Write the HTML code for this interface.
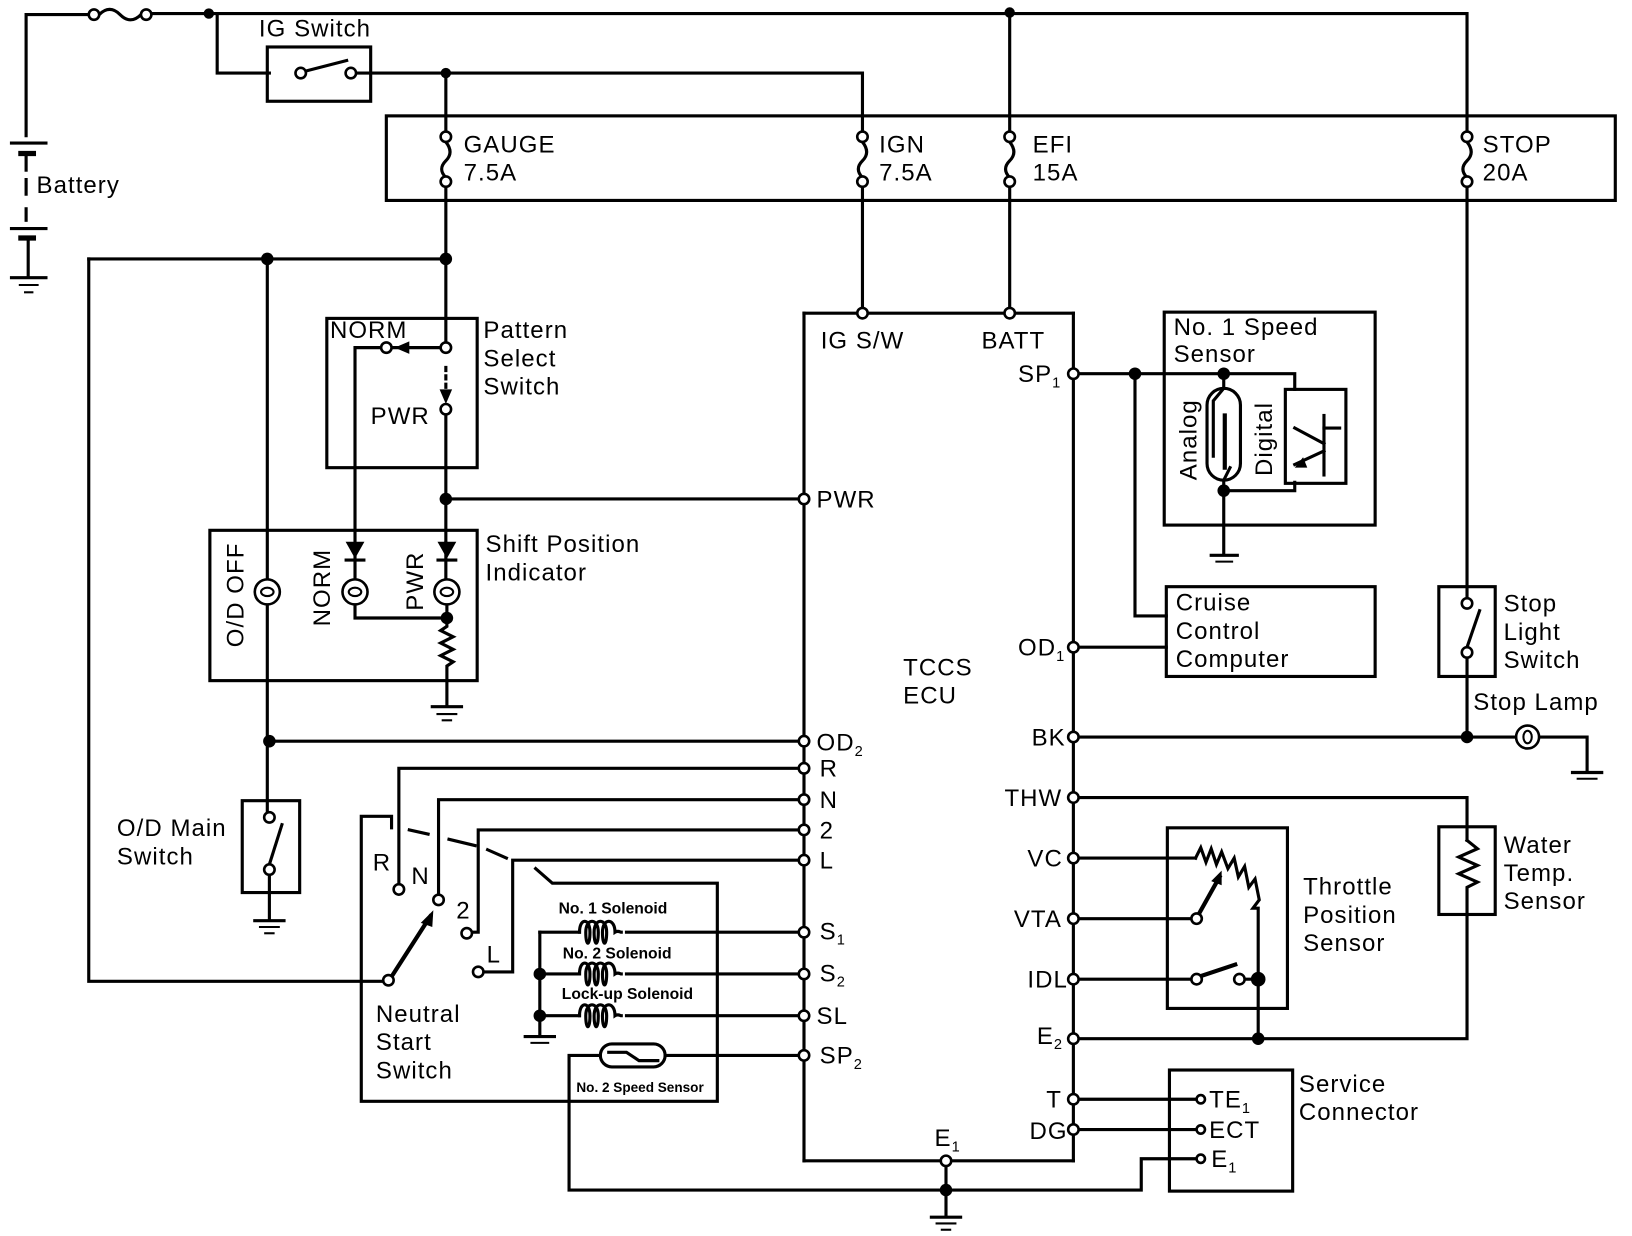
<!DOCTYPE html>
<html><head><meta charset="utf-8"><style>
html,body{margin:0;padding:0;background:#fff}
svg{display:block}
text{font-family:"Liberation Sans",Arial,sans-serif;font-size:23px;letter-spacing:1px;fill:#000}
.s{font-size:15px;font-weight:bold;letter-spacing:0}
</style></head><body>
<svg width="1632" height="1236" viewBox="0 0 1563 1184" preserveAspectRatio="none" xmlns="http://www.w3.org/2000/svg">
<g stroke="#000" stroke-width="3" fill="none" stroke-linecap="square">
<polyline points="25,130 25,14 90,14"/>
<path d="M95,14 q10,-10 20,0 q10,10 20,0"/>
<polyline points="140,13 1405,13 1405,130"/>
<polyline points="208,13 208,70 258,70"/>
<rect x="256" y="45" width="99" height="52"/>
<line x1="293" y1="68" x2="332" y2="58"/>
<polyline points="341,70 826,70 826,130"/>
<line x1="967" y1="13" x2="967" y2="130"/>
<line x1="11" y1="137" x2="44" y2="137"/>
<line x1="20" y1="147" x2="32" y2="147" stroke-width="5"/>
<line x1="25" y1="147" x2="25" y2="163"/>
<line x1="25" y1="172" x2="25" y2="186"/>
<line x1="25" y1="200" x2="25" y2="211"/>
<line x1="11" y1="219" x2="44" y2="219"/>
<line x1="20" y1="228" x2="32" y2="228" stroke-width="5"/>
<line x1="27" y1="228" x2="27" y2="264"/>
<line x1="11" y1="266" x2="44" y2="266"/>
<line x1="19" y1="273" x2="36" y2="273" stroke-width="2"/>
<line x1="24" y1="280" x2="31" y2="280" stroke-width="2"/>
<rect x="370" y="111" width="1177" height="81"/>
<line x1="427" y1="70" x2="427" y2="125"/>
<path d="M427,136 q8,10 0,18 q-8,8 0,16"/>
<path d="M826,136 q8,10 0,18 q-8,8 0,16"/>
<path d="M967,136 q8,10 0,18 q-8,8 0,16"/>
<path d="M1405,136 q8,10 0,18 q-8,8 0,16"/>
<line x1="427" y1="178" x2="427" y2="330"/>
<line x1="826" y1="178" x2="826" y2="298"/>
<line x1="967" y1="178" x2="967" y2="298"/>
<polyline points="1405,178 1405,575"/>
<polyline points="85,248 427,248"/>
<polyline points="85,248 85,940 370,940"/>
<line x1="256" y1="248" x2="256" y2="560"/>
<line x1="256" y1="575" x2="256" y2="778"/>
<rect x="313" y="305" width="144" height="143"/>
<polyline points="340,525 340,333 366,333"/>
<line x1="376" y1="333" x2="422" y2="333"/>
<line x1="427" y1="352" x2="427" y2="372" stroke-dasharray="3 5"/>
<line x1="427" y1="397" x2="427" y2="520"/>
<line x1="427" y1="478" x2="766" y2="478"/>
<rect x="201" y="508" width="256" height="144"/>
<line x1="340" y1="525" x2="340" y2="558"/>
<line x1="427" y1="520" x2="427" y2="558"/>
<polyline points="340,576 340,592 428,592"/>
<polyline points="428,576 428,600 422,604 434,610 422,616 434,622 422,628 434,634 428,638 428,675"/>
<line x1="414" y1="677" x2="442" y2="677"/>
<line x1="419" y1="684" x2="437" y2="684" stroke-width="2"/>
<line x1="424" y1="690" x2="432" y2="690" stroke-width="2"/>
<line x1="256" y1="710" x2="766" y2="710"/>
<rect x="232" y="767" width="55" height="88"/>
<line x1="258" y1="828" x2="270" y2="790"/>
<line x1="258" y1="838" x2="258" y2="880"/>
<line x1="244" y1="882" x2="272" y2="882"/>
<line x1="249" y1="888" x2="267" y2="888" stroke-width="2"/>
<line x1="254" y1="894" x2="262" y2="894" stroke-width="2"/>
<polyline points="770,300 1028,300"/>
<line x1="770" y1="300" x2="770" y2="1112"/>
<line x1="1028" y1="300" x2="1028" y2="1112"/>
<line x1="770" y1="1112" x2="1028" y2="1112"/>
<polyline points="766,736 382,736 382,848"/>
<polyline points="766,766 420,766 420,858"/>
<polyline points="766,795 458,795 458,893 452,893"/>
<polyline points="766,824 491,824 491,931 463,931"/>
<polyline points="375,793 375,782 346,782 346,1055 687,1055 687,846 529,846 513,832"/>
<line x1="392" y1="795" x2="410" y2="799"/>
<line x1="430" y1="804" x2="455" y2="810"/>
<line x1="467" y1="814" x2="485" y2="822"/>
<line x1="376" y1="934" x2="412" y2="878" stroke-width="4"/>
<line x1="517" y1="893" x2="517" y2="992"/>
<line x1="517" y1="893" x2="555" y2="893"/>
<line x1="517" y1="933" x2="555" y2="933"/>
<line x1="517" y1="973" x2="555" y2="973"/>
<line x1="503" y1="993" x2="531" y2="993"/>
<line x1="509" y1="999" x2="525" y2="999" stroke-width="2"/>
<line x1="600" y1="893" x2="766" y2="893"/>
<line x1="600" y1="933" x2="766" y2="933"/>
<line x1="600" y1="973" x2="766" y2="973"/>
<path d="M555,893 c0,-14 10,-14 10,0 c0,14 -4,14 -4,0 c0,-14 12,-14 12,0 c0,14 -4,14 -4,0 c0,-14 12,-14 12,0 c0,14 -4,14 -4,0 c0,-14 12,-14 12,0 c3,-2 5,0 6,0"/>
<path d="M555,933 c0,-14 10,-14 10,0 c0,14 -4,14 -4,0 c0,-14 12,-14 12,0 c0,14 -4,14 -4,0 c0,-14 12,-14 12,0 c0,14 -4,14 -4,0 c0,-14 12,-14 12,0 c3,-2 5,0 6,0"/>
<path d="M555,973 c0,-14 10,-14 10,0 c0,14 -4,14 -4,0 c0,-14 12,-14 12,0 c0,14 -4,14 -4,0 c0,-14 12,-14 12,0 c0,14 -4,14 -4,0 c0,-14 12,-14 12,0 c3,-2 5,0 6,0"/>
<rect x="575" y="1000" width="62" height="22" rx="11"/>
<polyline points="583,1008 600,1008 612,1016 630,1016"/>
<line x1="637" y1="1011" x2="766" y2="1011"/>
<polyline points="575,1011 545,1011 545,1140 906,1140"/>
<line x1="906" y1="1112" x2="906" y2="1165"/>
<line x1="892" y1="1166" x2="920" y2="1166"/>
<line x1="897" y1="1172" x2="915" y2="1172" stroke-width="2"/>
<line x1="902" y1="1178" x2="910" y2="1178" stroke-width="2"/>
<rect x="1115" y="299" width="202" height="204"/>
<polyline points="1033,358 1240,358 1240,373"/>
<rect x="1156" y="372" width="32" height="88" rx="16"/>
<polyline points="1172,358 1172,372 1162,384 1162,437"/>
<line x1="1173" y1="398" x2="1173" y2="448" stroke-width="4"/>
<polyline points="1178,448 1172,460 1172,530"/>
<polyline points="1172,470 1240,470 1240,462"/>
<rect x="1231" y="373" width="58" height="90"/>
<polyline points="1240,410 1268,425"/>
<line x1="1268" y1="398" x2="1268" y2="455"/>
<line x1="1268" y1="410" x2="1283" y2="410"/>
<polyline points="1268,432 1240,445"/>
<line x1="1160" y1="532" x2="1185" y2="532"/>
<line x1="1165" y1="538" x2="1180" y2="538" stroke-width="2"/>
<polyline points="1087,358 1087,590 1117,590"/>
<rect x="1117" y="562" width="200" height="86"/>
<line x1="1033" y1="620" x2="1117" y2="620"/>
<rect x="1378" y="562" width="54" height="86"/>
<line x1="1405" y1="620" x2="1417" y2="585"/>
<line x1="1405" y1="630" x2="1405" y2="706"/>
<line x1="1033" y1="706" x2="1454" y2="706"/>
<polyline points="1473,706 1520,706 1520,738"/>
<line x1="1506" y1="740" x2="1534" y2="740"/>
<line x1="1511" y1="746" x2="1529" y2="746" stroke-width="2"/>
<polyline points="1033,764 1405,764 1405,805"/>
<rect x="1378" y="792" width="54" height="84"/>
<polyline points="1405,805 1415,813 1397,821 1415,829 1397,837 1415,845 1405,850 1405,995 1033,995"/>
<rect x="1118" y="793" width="115" height="173"/>
<polyline points="1033,822 1145,822"/>
<polyline points="1145,822 1150,812 1155,826 1160,813 1165,828 1170,816 1176,832 1182,822 1186,840 1192,830 1196,850 1202,842 1206,862 1200,870 1205,870 1205,995"/>
<line x1="1033" y1="880" x2="1141" y2="880"/>
<line x1="1149" y1="874" x2="1168" y2="840" stroke-width="4"/>
<line x1="1033" y1="938" x2="1141" y2="938"/>
<line x1="1150" y1="935" x2="1183" y2="924" stroke-width="4"/>
<line x1="1192" y1="938" x2="1205" y2="938"/>
<rect x="1120" y="1025" width="118" height="116"/>
<line x1="1033" y1="1053" x2="1146" y2="1053"/>
<line x1="1033" y1="1082" x2="1146" y2="1082"/>
<polyline points="1146,1110 1093,1110 1093,1140 906,1140"/>
</g>
<g fill="#000">
<polygon points="378,333 392,327 392,339"/>
<polygon points="427,387 421,373 433,373"/>
<polygon points="415,872 403,884 414,888"/>
<polygon points="1170,834 1160,844 1170,848"/>
<polygon points="1240,448 1248,438 1252,448"/>
<polygon points="340,535 331,519 349,519"/><rect x="330" y="535" width="20" height="3"/>
<polygon points="428,535 419,519 437,519"/><rect x="418" y="535" width="20" height="3"/>
</g>
<g stroke="#000" stroke-width="2.5" fill="#fff">
<circle cx="256" cy="567" r="12"/><circle cx="340" cy="567" r="12"/><circle cx="428" cy="567" r="12"/>
<circle cx="1463" cy="706" r="11"/>
</g>
<g stroke="#000" stroke-width="2" fill="none">
<ellipse cx="256" cy="567" rx="6" ry="4"/><ellipse cx="340" cy="567" rx="6" ry="4"/><ellipse cx="428" cy="567" rx="6" ry="4"/><ellipse cx="1463" cy="706" rx="4" ry="6"/>
</g>
<g stroke="#000" stroke-width="2.5" fill="#fff">
<circle cx="90" cy="14" r="5"/><circle cx="140" cy="14" r="5"/>
<circle cx="288" cy="70" r="5"/><circle cx="336" cy="70" r="5"/>
<circle cx="427" cy="131" r="5"/><circle cx="427" cy="174" r="5"/>
<circle cx="826" cy="131" r="5"/><circle cx="826" cy="174" r="5"/>
<circle cx="967" cy="131" r="5"/><circle cx="967" cy="174" r="5"/>
<circle cx="1405" cy="131" r="5"/><circle cx="1405" cy="174" r="5"/>
<circle cx="427" cy="333" r="5"/><circle cx="370" cy="333" r="5"/><circle cx="427" cy="392" r="5"/>
<circle cx="826" cy="300" r="5"/><circle cx="967" cy="300" r="5"/>
<circle cx="770" cy="478" r="5"/><circle cx="770" cy="710" r="5"/><circle cx="770" cy="736" r="5"/><circle cx="770" cy="766" r="5"/><circle cx="770" cy="795" r="5"/><circle cx="770" cy="824" r="5"/><circle cx="770" cy="893" r="5"/><circle cx="770" cy="933" r="5"/><circle cx="770" cy="973" r="5"/><circle cx="770" cy="1011" r="5"/>
<circle cx="1028" cy="358" r="5"/><circle cx="1028" cy="620" r="5"/><circle cx="1028" cy="706" r="5"/><circle cx="1028" cy="764" r="5"/><circle cx="1028" cy="822" r="5"/><circle cx="1028" cy="880" r="5"/><circle cx="1028" cy="938" r="5"/><circle cx="1028" cy="995" r="5"/><circle cx="1028" cy="1053" r="5"/><circle cx="1028" cy="1082" r="5"/>
<circle cx="906" cy="1112" r="5"/>
<circle cx="258" cy="783" r="5"/><circle cx="258" cy="833" r="5"/>
<circle cx="382" cy="852" r="5"/><circle cx="420" cy="862" r="5"/><circle cx="447" cy="894" r="5"/><circle cx="458" cy="931" r="5"/><circle cx="372" cy="939" r="5"/>
<circle cx="1405" cy="578" r="5"/><circle cx="1405" cy="625" r="5"/>
<circle cx="1146" cy="880" r="5"/><circle cx="1146" cy="938" r="5"/><circle cx="1187" cy="938" r="5"/>
<circle cx="1150" cy="1053" r="4"/><circle cx="1150" cy="1082" r="4"/><circle cx="1150" cy="1110" r="4"/>
</g>
<g fill="#000">
<circle cx="200" cy="13" r="5"/><circle cx="967" cy="12" r="5"/><circle cx="427" cy="70" r="5"/>
<circle cx="427" cy="248" r="6"/><circle cx="256" cy="248" r="6"/>
<circle cx="427" cy="478" r="6"/><circle cx="428" cy="592" r="6"/><circle cx="258" cy="710" r="6"/>
<circle cx="517" cy="933" r="6"/><circle cx="517" cy="973" r="6"/>
<circle cx="1087" cy="358" r="6"/><circle cx="1172" cy="358" r="6"/><circle cx="1172" cy="470" r="6"/>
<circle cx="1405" cy="706" r="6"/><circle cx="1205" cy="938" r="7"/><circle cx="1205" cy="995" r="6"/>
<circle cx="906" cy="1140" r="6"/>
</g>
<text x="248" y="35">IG Switch</text>
<text x="35" y="185">Battery</text>
<text x="444" y="146">GAUGE</text><text x="444" y="173">7.5A</text>
<text x="842" y="146">IGN</text><text x="842" y="173">7.5A</text>
<text x="989" y="146">EFI</text><text x="989" y="173">15A</text>
<text x="1420" y="146">STOP</text><text x="1420" y="173">20A</text>
<text x="316" y="324">NORM</text>
<text x="463" y="324">Pattern</text><text x="463" y="351">Select</text><text x="463" y="378">Switch</text>
<text x="355" y="406">PWR</text>
<text x="465" y="529">Shift Position</text><text x="465" y="556">Indicator</text>
<text transform="translate(233,620) rotate(-90)">O/D OFF</text>
<text transform="translate(316,600) rotate(-90)">NORM</text>
<text transform="translate(405,585) rotate(-90)">PWR</text>
<text x="112" y="801">O/D Main</text><text x="112" y="828">Switch</text>
<text x="786" y="334">IG S/W</text><text x="940" y="334">BATT</text>
<text x="782" y="486">PWR</text>
<text x="782" y="719">OD<tspan font-size="14" dy="5">2</tspan></text>
<text x="785" y="744">R</text><text x="785" y="774">N</text><text x="785" y="803">2</text><text x="785" y="832">L</text>
<text x="785" y="900">S<tspan font-size="14" dy="5">1</tspan></text>
<text x="785" y="940">S<tspan font-size="14" dy="5">2</tspan></text>
<text x="782" y="981">SL</text>
<text x="785" y="1019">SP<tspan font-size="14" dy="5">2</tspan></text>
<text x="357" y="834">R</text><text x="394" y="847">N</text><text x="437" y="880">2</text><text x="466" y="922">L</text>
<text x="360" y="979">Neutral</text><text x="360" y="1006">Start</text><text x="360" y="1033">Switch</text>
<text class="s" x="535" y="875">No. 1 Solenoid</text>
<text class="s" x="539" y="918">No. 2 Solenoid</text>
<text class="s" x="538" y="957">Lock-up Solenoid</text>
<text class="s" x="552" y="1046" style="font-size:13px">No. 2 Speed Sensor</text>
<text x="865" y="647">TCCS</text><text x="865" y="674">ECU</text>
<text x="975" y="366">SP<tspan font-size="14" dy="5">1</tspan></text>
<text x="975" y="628">OD<tspan font-size="14" dy="5">1</tspan></text>
<text x="988" y="714">BK</text><text x="962" y="772">THW</text><text x="984" y="830">VC</text><text x="971" y="888">VTA</text><text x="984" y="946">IDL</text>
<text x="993" y="1000">E<tspan font-size="14" dy="5">2</tspan></text>
<text x="1002" y="1061">T</text><text x="986" y="1091">DG</text>
<text x="895" y="1098">E<tspan font-size="14" dy="5">1</tspan></text>
<text x="1124" y="321">No. 1 Speed</text><text x="1124" y="347">Sensor</text>
<text transform="translate(1146,460) rotate(-90)">Analog</text>
<text transform="translate(1218,456) rotate(-90)">Digital</text>
<text x="1126" y="585">Cruise</text><text x="1126" y="612">Control</text><text x="1126" y="639">Computer</text>
<text x="1440" y="586">Stop</text><text x="1440" y="613">Light</text><text x="1440" y="640">Switch</text>
<text x="1411" y="680">Stop Lamp</text>
<text x="1440" y="817">Water</text><text x="1440" y="844">Temp.</text><text x="1440" y="871">Sensor</text>
<text x="1248" y="857">Throttle</text><text x="1248" y="884">Position</text><text x="1248" y="911">Sensor</text>
<text x="1244" y="1046">Service</text><text x="1244" y="1073">Connector</text>
<text x="1158" y="1061">TE<tspan font-size="14" dy="5">1</tspan></text>
<text x="1158" y="1090">ECT</text>
<text x="1160" y="1118">E<tspan font-size="14" dy="5">1</tspan></text>
</svg>
</body></html>
